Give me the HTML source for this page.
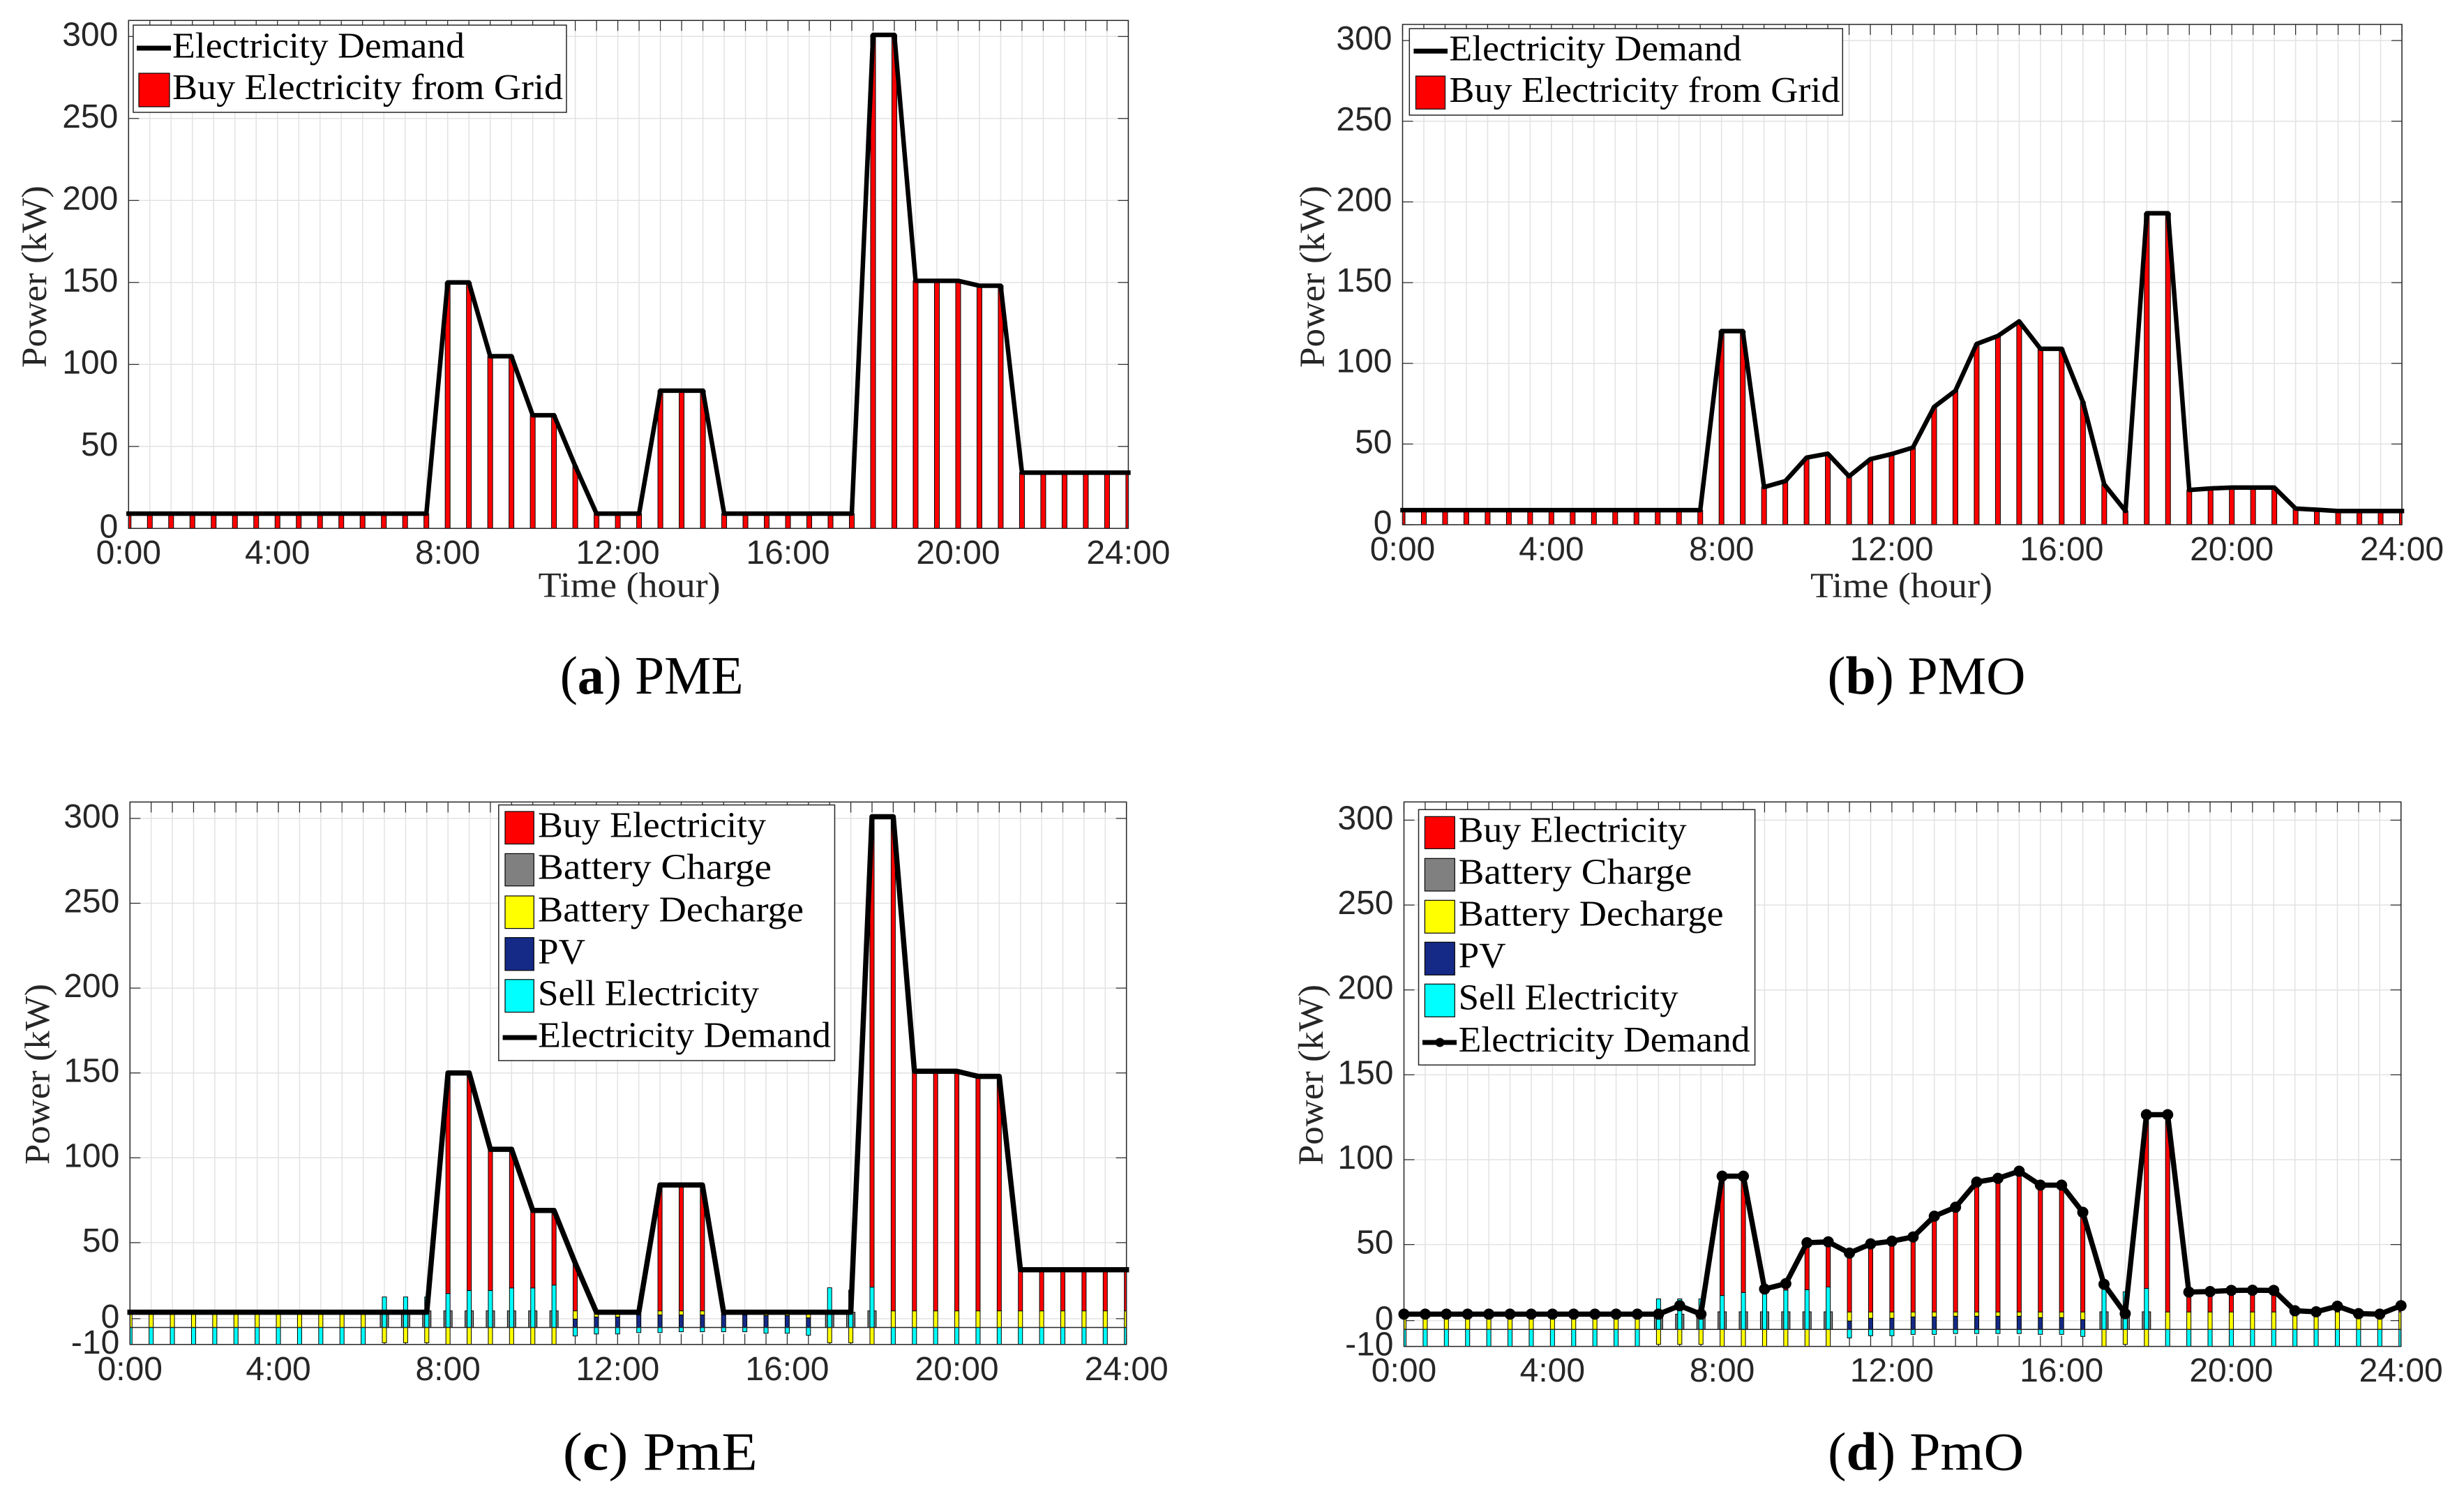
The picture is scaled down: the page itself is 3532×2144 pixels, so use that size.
<!DOCTYPE html>
<html lang="en">
<head>
<meta charset="utf-8">
<title>Electricity demand and grid purchases: PME, PMO, PmE, PmO</title>
<style>
html,body{margin:0;padding:0;background:#fff;}
svg{display:block;}
.leg{font-family:"Liberation Serif",serif;font-size:52px;fill:#000;}
.axt{font-family:"Liberation Serif",serif;font-size:51px;fill:#262626;}
.cap{font-family:"Liberation Serif",serif;font-size:77px;fill:#000;}
.tick{font-family:"Liberation Sans",sans-serif;font-size:48px;fill:#262626;}
.lb{fill:#fff;stroke:#262626;stroke-width:1.5;}
.sw{stroke:#000;stroke-width:1.2;}
</style>
</head>
<body>
<svg id="fig" xmlns="http://www.w3.org/2000/svg" width="3532" height="2144" viewBox="0 0 3532 2144">
<rect width="3532" height="2144" fill="#fff"/>

<!-- Panel a -->
<g>
  <g id="plot-a"></g>
  <g>
    <rect class="lb" x="191" y="36" width="621" height="125"/>
    <line x1="196" y1="69" x2="245" y2="69" stroke="#000" stroke-width="7"/>
    <text class="leg" x="247" y="82.5" textLength="419" lengthAdjust="spacingAndGlyphs">Electricity Demand</text>
    <rect class="sw" x="199" y="105" width="44" height="48" fill="#f00"/>
    <text class="leg" x="247" y="142" textLength="560" lengthAdjust="spacingAndGlyphs">Buy Electricity from Grid</text>
  </g>
  <text class="axt" transform="translate(66 527) rotate(-90)" textLength="261" lengthAdjust="spacingAndGlyphs">Power (kW)</text>
  <text class="axt" x="771.7" y="855.3" textLength="261" lengthAdjust="spacingAndGlyphs">Time (hour)</text>
  <text class="cap" x="802.7" y="994" textLength="263" lengthAdjust="spacingAndGlyphs">(<tspan font-weight="bold">a</tspan>) PME</text>
</g>

<!-- Panel b -->
<g>
  <g id="plot-b"></g>
  <g>
    <rect class="lb" x="2020.3" y="41" width="621" height="124"/>
    <line x1="2026.4" y1="73.3" x2="2075" y2="73.3" stroke="#000" stroke-width="7"/>
    <text class="leg" x="2077.4" y="86.5" textLength="419" lengthAdjust="spacingAndGlyphs">Electricity Demand</text>
    <rect class="sw" x="2029.5" y="109" width="42" height="47.3" fill="#f00"/>
    <text class="leg" x="2077.4" y="146" textLength="560" lengthAdjust="spacingAndGlyphs">Buy Electricity from Grid</text>
  </g>
  <text class="axt" transform="translate(1898 527) rotate(-90)" textLength="261" lengthAdjust="spacingAndGlyphs">Power (kW)</text>
  <text class="axt" x="2595" y="856" textLength="261" lengthAdjust="spacingAndGlyphs">Time (hour)</text>
  <text class="cap" x="2619.5" y="994.3" textLength="284" lengthAdjust="spacingAndGlyphs">(<tspan font-weight="bold">b</tspan>) PMO</text>
</g>

<!-- Panel c -->
<g>
  <g id="plot-c"></g>
  <g>
    <rect class="lb" x="714.8" y="1153.6" width="481.7" height="366.4"/>
    <rect class="sw" x="724" y="1163" width="41.3" height="46.6" fill="#f00"/>
    <text class="leg" x="771" y="1199.5" textLength="327" lengthAdjust="spacingAndGlyphs">Buy Electricity</text>
    <rect class="sw" x="724" y="1223.4" width="41.3" height="46.3" fill="#808080"/>
    <text class="leg" x="771" y="1259.7" textLength="335" lengthAdjust="spacingAndGlyphs">Battery Charge</text>
    <rect class="sw" x="724" y="1284" width="41.3" height="46.6" fill="#ff0"/>
    <text class="leg" x="771" y="1320.6" textLength="381" lengthAdjust="spacingAndGlyphs">Battery Decharge</text>
    <rect class="sw" x="724" y="1343.7" width="41.3" height="47.1" fill="#152a87"/>
    <text class="leg" x="771" y="1381" textLength="68" lengthAdjust="spacingAndGlyphs">PV</text>
    <rect class="sw" x="724" y="1403.8" width="41.3" height="46.8" fill="#0ff"/>
    <text class="leg" x="771" y="1440.5" textLength="317" lengthAdjust="spacingAndGlyphs">Sell Electricity</text>
    <line x1="720.6" y1="1487" x2="769.5" y2="1487" stroke="#000" stroke-width="7"/>
    <text class="leg" x="771" y="1500.5" textLength="420" lengthAdjust="spacingAndGlyphs">Electricity Demand</text>
  </g>
  <text class="axt" transform="translate(70.5 1669) rotate(-90)" textLength="259" lengthAdjust="spacingAndGlyphs">Power (kW)</text>
  <text class="cap" x="806.8" y="2106.7" textLength="279" lengthAdjust="spacingAndGlyphs">(<tspan font-weight="bold">c</tspan>) PmE</text>
</g>

<!-- Panel d -->
<g>
  <g id="plot-d"></g>
  <g>
    <rect class="lb" x="2033.5" y="1160.3" width="482.1" height="366"/>
    <rect class="sw" x="2042.4" y="1170.3" width="42.9" height="46" fill="#f00"/>
    <text class="leg" x="2090.6" y="1206.5" textLength="327" lengthAdjust="spacingAndGlyphs">Buy Electricity</text>
    <rect class="sw" x="2042.4" y="1230.3" width="42.9" height="46.7" fill="#808080"/>
    <text class="leg" x="2090.6" y="1266.5" textLength="334.5" lengthAdjust="spacingAndGlyphs">Battery Charge</text>
    <rect class="sw" x="2042.4" y="1290.3" width="42.9" height="47" fill="#ff0"/>
    <text class="leg" x="2090.6" y="1326.5" textLength="380" lengthAdjust="spacingAndGlyphs">Battery Decharge</text>
    <rect class="sw" x="2042.4" y="1350.3" width="42.9" height="47" fill="#152a87"/>
    <text class="leg" x="2090.6" y="1386.5" textLength="68" lengthAdjust="spacingAndGlyphs">PV</text>
    <rect class="sw" x="2042.4" y="1410.3" width="42.9" height="47" fill="#0ff"/>
    <text class="leg" x="2090.6" y="1446.5" textLength="315" lengthAdjust="spacingAndGlyphs">Sell Electricity</text>
    <line x1="2039" y1="1494" x2="2088" y2="1494" stroke="#000" stroke-width="7"/>
    <circle cx="2064" cy="1494" r="6.5" fill="#000"/>
    <text class="leg" x="2090.6" y="1507" textLength="418" lengthAdjust="spacingAndGlyphs">Electricity Demand</text>
  </g>
  <text class="axt" transform="translate(1896 1670) rotate(-90)" textLength="259" lengthAdjust="spacingAndGlyphs">Power (kW)</text>
  <text class="cap" x="2620" y="2106.7" textLength="281" lengthAdjust="spacingAndGlyphs">(<tspan font-weight="bold">d</tspan>) PmO</text>
</g>
</svg>

<script>
// ---- shared categories and tick labels ----
const timeSlots = [1,2,3,4,5,6,7,8,9,10,11,12,13,14,15,16,17,18,19,20,21,22,23,24,25,26,27,28,29,30,31,32,33,34,35,36,37,38,39,40,41,42,43,44,45,46,47,48];
const xTickSlots = [1,8,16,24,32,40,48];
const xTickLabels = ['0:00','4:00','8:00','12:00','16:00','20:00','24:00'];
const upperYTicks = [0,50,100,150,200,250,300];
const upperYLabels = ['0','50','100','150','200','250','300'];
const lowerYTicks = [-10,5.2,50,100,150,200,250,300];
const lowerYLabels = ['-10','0','50','100','150','200','250','300'];

// ---- panel a: PME ----
const pmeDemand = [9,9,9,9,9,9,9,9,9,9,9,9,9,9,9,150,150,105,105,69,69,38,9,9,9,84,84,84,9,9,9,9,9,9,9,301,301,151,151,151,148,148,34,34,34,34,34,34];
const pmeBuy = [9,9,9,9,9,9,9,9,9,9,9,9,9,9,9,150,150,105,105,69,69,38,9,9,9,84,84,84,9,9,9,9,9,9,9,301,301,151,151,151,148,148,34,34,34,34,34,34];

// ---- panel b: PMO ----
const pmoDemand = [9,9,9,9,9,9,9,9,9,9,9,9,9,9,9,120,120,23.3,27,41.6,44,30,40.6,43.8,47.8,73,83,112,117,126,109,109,76,25,8.5,193,193,21.5,22.5,23,23,23,10,9.3,8.5,8.5,8.5,8.5];
const pmoBuy = [9,9,9,9,9,9,9,9,9,9,9,9,9,9,9,120,120,23.3,27,41.6,44,30,40.6,43.8,47.8,73,83,112,117,126,109,109,76,25,8.5,193,193,21.5,22.5,23,23,23,10,9.3,8.5,8.5,8.5,8.5];

// ---- panel c: PmE ----
const pmELowerDemand = [9,9,9,9,9,9,9,9,9,9,9,9,9,9,9,150,150,105,105,69,69,38,9,9,9,84,84,84,9,9,9,9,9,9,9,301,301,151,151,151,148,148,34,34,34,34,34,34];
const pmELowerBuy = [0,0,0,0,0,0,0,0,0,0,0,0,0,0,0,130,128.2,83.2,81.7,45.7,44,28.2,0,0,0,74.2,74.2,74.2,0,0,0,0,0,0,0,277.2,291.2,141.2,141.2,141.2,138.2,138.2,24.2,24.2,24.2,24.2,24.2,24.2];
const pmELowerSellUp = [0,0,0,0,0,0,0,0,0,0,0,0,18,18,18,20,21.8,21.8,23.3,23.3,25,0,0,0,0,0,0,0,0,0,0,0,0,23.4,22,23.8,0,0,0,0,0,0,0,0,0,0,0,0];
const pmELowerSellDown = [-10,-10,-10,-10,-10,-10,-10,-10,-10,-10,-10,-10,0,0,0,0,0,0,0,0,0,-5,-3.8,-3.8,-3,-3,-2.5,-2.5,-2.5,-2.5,-3.4,-3.4,-4.6,0,0,0,-10,-10,-10,-10,-10,-10,-10,-10,-10,-10,-10,-10];
const pmELowerDischargeUp = [9,9,9,9,9,9,9,9,9,9,9,9,0,0,0,0,0,0,0,0,0,4.8,2.8,2.8,1.6,2.4,2.4,2.4,1.6,1.6,2,2,3.3,0,0,0,9.8,9.8,9.8,9.8,9.8,9.8,9.8,9.8,9.8,9.8,9.8,9.8];
const pmELowerDischargeDown = [0,0,0,0,0,0,0,0,0,0,0,0,-9,-9,-9,-10,-10,-10,-10,-10,-10,0,0,0,0,0,0,0,0,0,0,0,0,-9,-9,-10,0,0,0,0,0,0,0,0,0,0,0,0];
const pmELowerPv = [0,0,0,0,0,0,0,0,0,0,0,0,0,0,0,0,0,0,0,0,0,5,6.2,6.2,7.4,7.4,7.4,7.4,7.4,7.4,7,7,5.7,0,0,0,0,0,0,0,0,0,0,0,0,0,0,0];
const pmELowerCharge = [0,0,0,0,0,0,0,0,0,0,0,0,9.8,9.8,9.8,9.8,9.8,9.8,9.8,9.8,9.8,0,0,0,0,0,0,0,0,0,0,0,0,9.8,9,9.8,0,0,0,0,0,0,0,0,0,0,0,0];

// ---- panel d: PmO ----
const pmOLowerDemand = [9,9,9,9,9,9,9,9,9,9,9,9,9,14,9,90.3,90.3,23.8,27,51.1,51.6,45,50.4,52,54.5,66.7,72,86.8,89,93.2,85,85,69,26.6,9.3,126.5,126.5,22,22.3,23,23.1,23,11,10.4,13.7,9.3,9,14];
const pmOLowerBuy = [0,0,0,0,0,0,0,0,0,0,0,0,0,0,0,70.3,68.5,0,3.8,27.7,26.6,34.7,40.1,41.7,44.2,56.4,61.7,76.5,78.7,82.9,74.7,74.7,58.7,2.6,0,102.3,116.2,11.7,12,12.7,12.8,12.7,0.7,0,3.4,0,0,3.7];
const pmOLowerSellUp = [0,0,0,0,0,0,0,0,0,0,0,0,18,18,18,20,21.8,23.8,23.2,23.4,25,0,0,0,0,0,0,0,0,0,0,0,0,24,22.2,24.2,0,0,0,0,0,0,0,0,0,0,0,0];
const pmOLowerSellDown = [-10,-10,-10,-10,-10,-10,-10,-10,-10,-10,-10,-10,0,0,0,0,0,0,0,0,0,-5,-3.7,-3.7,-2.9,-2.9,-2.4,-2.4,-2.4,-2.4,-2.9,-2.9,-4.1,0,0,0,-10,-10,-10,-10,-10,-10,-10,-10,-10,-10,-10,-10];
const pmOLowerDischargeUp = [9,9,9,9,9,9,9,9,9,9,9,9,0,0,0,0,0,0,0,0,0,5.3,3.7,3.7,2.9,2.9,2.5,2.5,2.5,2.5,3.3,3.3,4.5,0,0,0,10.3,10.3,10.3,10.3,10.3,10.3,10.3,10.3,10.3,9.3,9,10.3];
const pmOLowerDischargeDown = [0,0,0,0,0,0,0,0,0,0,0,0,-8.8,-8.8,-8.8,-10,-10,-10,-10,-10,-10,0,0,0,0,0,0,0,0,0,0,0,0,-10,-8.8,-10,0,0,0,0,0,0,0,0,0,0,0,0];
const pmOLowerPv = [0,0,0,0,0,0,0,0,0,0,0,0,0,0,0,0,0,0,0,0,0,5,6.6,6.6,7.4,7.4,7.8,7.8,7.8,7.8,7,7,5.8,0,0,0,0,0,0,0,0,0,0,0,0,0,0,0];
const pmOLowerCharge = [0,0,0,0,0,0,0,0,0,0,0,0,9,9,9,10.4,10.4,10.4,10.4,10.4,10.4,0,0,0,0,0,0,0,0,0,0,0,0,10.4,9,10.4,0,0,0,0,0,0,0,0,0,0,0,0];

const NS = 'http://www.w3.org/2000/svg';
const INK = '#262626';
const GRID = '#e2e2e2';

function make(parent, tag, attrs, name) {
  const el = document.createElementNS(NS, tag);
  for (const k in attrs) el.setAttribute(k, attrs[k]);
  
  
  parent.appendChild(el);
  return el;
}

function drawPanel(p) {
  const root = document.getElementById('plot-' + p.id);
  const xOf = s => p.left + (s - 1) * (p.right - p.left) / 47;
  const yOf = v => p.y0 - v * p.unit;
  const bottom = yOf(p.yMin);

  // grid
  const grid = make(root, 'g', {stroke: GRID, 'stroke-width': 1.5}, p.key + '-grid');
  timeSlots.forEach(s => {
    make(grid, 'line', {x1: xOf(s), x2: xOf(s), y1: p.top, y2: bottom}, 'vertical-gridline');
  });
  p.yTicks.forEach(v => {
    make(grid, 'line', {x1: p.left, x2: p.right, y1: yOf(v), y2: yOf(v)}, 'horizontal-gridline');
  });

  // tick marks
  const ticks = make(root, 'g', {stroke: INK, 'stroke-width': 1.2}, p.key + '-tick-marks');
  timeSlots.forEach(s => {
    make(ticks, 'line', {x1: xOf(s), x2: xOf(s), y1: p.top, y2: p.top + 15}, 'x-tick-top');
    make(ticks, 'line', {x1: xOf(s), x2: xOf(s), y1: bottom, y2: bottom - 15}, 'x-tick-bottom');
  });
  p.yTicks.forEach(v => {
    make(ticks, 'line', {x1: p.left, x2: p.left + 15, y1: yOf(v), y2: yOf(v)}, 'y-tick-left');
    make(ticks, 'line', {x1: p.right, x2: p.right - 15, y1: yOf(v), y2: yOf(v)}, 'y-tick-right');
  });

  // bars, clipped to the axes
  const clip = make(root, 'clipPath', {id: 'clip-' + p.id}, p.key + '-clip');
  make(clip, 'rect', {x: p.left, y: p.top, width: p.right - p.left, height: bottom - p.top}, p.key + '-clip-rect');
  const bars = make(root, 'g', {'clip-path': 'url(#clip-' + p.id + ')', stroke: '#000', 'stroke-width': 1}, p.key + '-bars');
  const bar = (s, from, to, w, fill, name) => {
    if (from === to) return;
    const a = yOf(Math.max(from, to)), b = yOf(Math.min(from, to));
    make(bars, 'rect', {x: xOf(s) - w / 2, y: a, width: w, height: b - a, fill: fill}, name);
  };
  timeSlots.forEach((s, i) => {
    if (p.charge) bar(s, 0, p.charge[i], 12, '#808080', 'battery-charge-bar');
  });
  timeSlots.forEach((s, i) => {
    let top = 0;
    if (p.sellDown) {
      bar(s, 0, p.sellDown[i], p.barW, '#00ffff', 'sell-electricity-negative-bar');
      bar(s, 0, p.dischargeDown[i], p.barW, '#ffff00', 'battery-decharge-negative-bar');
      bar(s, top, top + p.pv[i], p.barW, '#152a87', 'pv-bar');
      top += p.pv[i];
      bar(s, top, top + p.dischargeUp[i], p.barW, '#ffff00', 'battery-decharge-bar');
      top += p.dischargeUp[i];
      bar(s, top, top + p.sellUp[i], p.barW, '#00ffff', 'sell-electricity-bar');
      top += p.sellUp[i];
    }
    bar(s, top, top + p.buy[i], p.barW, '#ff0000', 'buy-electricity-bar');
  });

  // zero baseline for the lower panels
  if (p.yMin < 0) {
    make(root, 'line', {x1: p.left, x2: p.right, y1: yOf(0), y2: yOf(0), stroke: INK, 'stroke-width': 1.5}, p.key + '-zero-baseline');
  }

  // axes box
  make(root, 'rect', {x: p.left, y: p.top, width: p.right - p.left, height: bottom - p.top, fill: 'none', stroke: INK, 'stroke-width': 1.5}, p.key + '-axes-box');

  // demand line
  const pts = timeSlots.map((s, i) => xOf(s) + ',' + yOf(p.demand[i])).join(' ');
  make(root, 'polyline', {points: pts, fill: 'none', stroke: '#000', 'stroke-width': p.lineW, 'stroke-linejoin': 'round', 'stroke-linecap': 'square'}, p.key + '-demand-line');
  if (p.markers) {
    timeSlots.forEach((s, i) => {
      make(root, 'circle', {cx: xOf(s), cy: yOf(p.demand[i]), r: 8, fill: '#000'}, 'demand-point');
    });
  }

  // tick labels
  p.yTicks.forEach((v, i) => {
    const t = make(root, 'text', {class: 'tick', x: p.left - 15, y: yOf(v) + 13, 'text-anchor': 'end'}, 'y-tick-label');
    t.textContent = p.yLabels[i];
  });
  xTickSlots.forEach((s, i) => {
    const t = make(root, 'text', {class: 'tick', x: xOf(s), y: p.xLabelY, 'text-anchor': 'middle'}, 'x-tick-label');
    t.textContent = xTickLabels[i];
  });
}

drawPanel({id: 'a', key: 'pme', left: 184.3, right: 1617.4, top: 29.3, y0: 757.3, unit: 2.35, yMin: 0, xLabelY: 808, barW: 7, lineW: 6.5, yTicks: upperYTicks, yLabels: upperYLabels, demand: pmeDemand, buy: pmeBuy});
drawPanel({id: 'b', key: 'pmo', left: 2010.5, right: 3443, top: 35, y0: 752, unit: 2.313, yMin: 0, xLabelY: 803, barW: 7, lineW: 6.5, yTicks: upperYTicks, yLabels: upperYLabels, demand: pmoDemand, buy: pmoBuy});
drawPanel({id: 'c', key: 'pme-lower', left: 186.3, right: 1614.7, top: 1149.4, y0: 1902.5, unit: 2.432, yMin: -10, xLabelY: 1978, barW: 6, lineW: 7.5, yTicks: lowerYTicks, yLabels: lowerYLabels, demand: pmELowerDemand, buy: pmELowerBuy, sellUp: pmELowerSellUp, sellDown: pmELowerSellDown, dischargeUp: pmELowerDischargeUp, dischargeDown: pmELowerDischargeDown, pv: pmELowerPv, charge: pmELowerCharge});
drawPanel({id: 'd', key: 'pmo-lower', left: 2012.5, right: 3441.7, top: 1149.3, y0: 1905.3, unit: 2.433, yMin: -10, xLabelY: 1980, barW: 6, lineW: 7.5, markers: true, yTicks: lowerYTicks, yLabels: lowerYLabels, demand: pmOLowerDemand, buy: pmOLowerBuy, sellUp: pmOLowerSellUp, sellDown: pmOLowerSellDown, dischargeUp: pmOLowerDischargeUp, dischargeDown: pmOLowerDischargeDown, pv: pmOLowerPv, charge: pmOLowerCharge});
</script>
</body>
</html>
